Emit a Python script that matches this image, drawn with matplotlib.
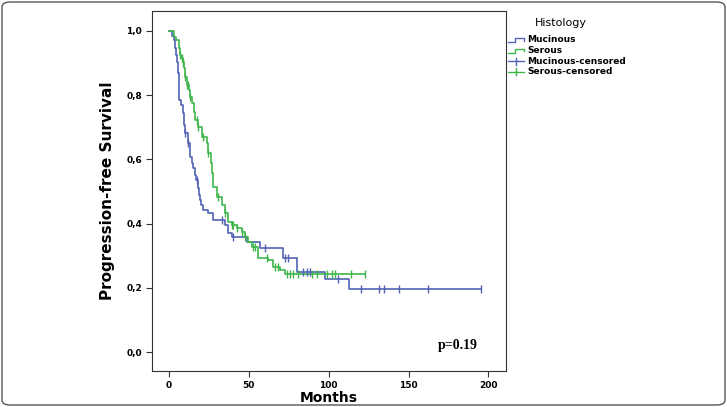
import numpy as np
import matplotlib
matplotlib.use("Agg")
import matplotlib.pyplot as plt
from matplotlib.patches import FancyBboxPatch
from matplotlib.lines import Line2D

# Kaplan-Meier step data (time of drop in months, survival after drop)
muc_times = [0, 1.9, 3.1, 3.8, 4.4, 5.0, 5.6, 6.3, 6.6, 7.5, 8.8, 9.4, 10.0, 11.9, 13.2,
             14.4, 15.0, 16.3, 16.9, 18.2, 18.8, 19.4, 20.1, 21.3, 24.4, 27.6, 35.1, 37.0,
             39.5, 48.9, 57.0, 71.4, 80.2, 97.7, 112.8]
muc_surv = [1.0, 0.984, 0.972, 0.947, 0.925, 0.903, 0.869, 0.832, 0.785, 0.769, 0.745, 0.707,
            0.682, 0.651, 0.607, 0.589, 0.573, 0.551, 0.536, 0.511, 0.489, 0.474, 0.458, 0.442,
            0.433, 0.411, 0.396, 0.371, 0.358, 0.343, 0.324, 0.293, 0.249, 0.227, 0.196]
muc_end = 195.5
muc_censor = [10.0, 11.9, 17.5, 33.2, 39.8, 60.2, 72.7, 74.6, 84.0, 86.5, 88.3, 105.9,
              120.3, 131.6, 134.8, 144.1, 162.3, 195.5]

ser_times = [0, 3.1, 4.4, 6.3, 6.9, 7.5, 8.8, 9.4, 10.0, 11.3, 12.5, 13.2, 14.4, 15.7, 16.3,
             18.2, 20.7, 23.8, 24.4, 26.3, 26.9, 27.6, 30.1, 33.2, 35.1, 37.0, 39.5, 42.6,
             45.7, 47.6, 49.5, 52.0, 55.8, 62.0, 65.2, 69.5, 72.7]
ser_surv = [1.0, 0.981, 0.972, 0.947, 0.925, 0.916, 0.903, 0.885, 0.857, 0.832, 0.816, 0.794,
            0.776, 0.748, 0.723, 0.701, 0.670, 0.651, 0.620, 0.589, 0.558, 0.514, 0.483, 0.458,
            0.433, 0.405, 0.396, 0.386, 0.374, 0.358, 0.343, 0.327, 0.293, 0.287, 0.265, 0.255,
            0.243]
ser_end = 122.8
ser_censor = [6.9, 8.1, 8.8, 10.0, 11.3, 11.9, 13.2, 17.5, 18.2, 21.3, 24.4, 30.7, 35.1,
              39.5, 40.1, 42.6, 45.7, 47.6, 52.6, 53.9, 61.4, 66.4, 68.3, 73.9, 75.8, 77.7,
              80.8, 89.6, 92.7, 99.0, 102.1, 104.0, 114.0, 122.8]

x_ticks = [0, 50, 100, 150, 200]
y_ticks = [0.0, 0.2, 0.4, 0.6, 0.8, 1.0]
y_ticklabels = ["0,0", "0,2", "0,4", "0,6", "0,8", "1,0"]

BLUE = "#5262b4"
GREEN = "#3fb64a"

fig = plt.figure(figsize=(7.27, 4.07), dpi=100)
ax = fig.add_axes([152/727, 36/407, 354/727, 360/407])


def km_draw(times, surv, end, censor, color):
    t = list(times) + [end]
    s = list(surv) + [surv[-1]]
    ax.step(t, s, where="post", color=color, lw=1.2, zorder=3)
    times_arr = np.array(times)
    surv_arr = np.array(surv)
    cs = []
    for c in censor:
        i = np.searchsorted(times_arr, c, side="right") - 1
        cs.append(surv_arr[max(i, 0)])
    ax.plot(censor, cs, linestyle="none", marker="|", markersize=6, mew=1.0,
            color=color, zorder=4)


km_draw(muc_times, muc_surv, muc_end, muc_censor, BLUE)
km_draw(ser_times, ser_surv, ser_end, ser_censor, GREEN)

ax.set_xlim(-10.6, 211)
ax.set_ylim(-0.059, 1.062)
ax.set_xticks(x_ticks)
ax.set_xticklabels([str(v) for v in x_ticks], fontsize=6.5, fontweight="bold")
ax.set_yticks(y_ticks)
ax.set_yticklabels(y_ticklabels, fontsize=6.5, fontweight="bold")
ax.tick_params(axis="both", direction="out", length=4, width=0.8, color="#333333", pad=3)
for sp in ax.spines.values():
    sp.set_linewidth(0.8)
    sp.set_color("#333333")
ax.set_xlabel("Months", fontsize=10, fontweight="bold", labelpad=1)
ax.set_ylabel("Progression-free Survival", fontsize=11, fontweight="bold", labelpad=8)

ax.text(0.92, 0.07, "p=0.19", transform=ax.transAxes, ha="right", va="center",
        fontsize=10, fontweight="bold", family="Liberation Serif")

# Legend drawn in figure pixel coordinates
W, H = 727, 407
def fx(px):
    return px / W
def fy(py):
    return 1 - py / H

fig.text(fx(561), fy(23), "Histology", fontsize=8, ha="center", va="center")
labels = ["Mucinous", "Serous", "Mucinous-censored", "Serous-censored"]
colors = [BLUE, GREEN, BLUE, GREEN]
rows = [40, 50.5, 61, 71.5]
for k, (lab, col, r) in enumerate(zip(labels, colors, rows)):
    if k < 2:
        xs = [fx(508), fx(515), fx(515), fx(524), fx(524)]
        ys = [fy(r + 2), fy(r + 2), fy(r - 2), fy(r - 2), fy(r + 0.5)]
        fig.add_artist(Line2D(xs, ys, color=col, lw=1.0))
    else:
        fig.add_artist(Line2D([fx(508), fx(524)], [fy(r), fy(r)], color=col, lw=1.0))
        fig.add_artist(Line2D([fx(516), fx(516)], [fy(r - 3.5), fy(r + 3.5)], color=col, lw=1.0))
    fig.text(fx(527), fy(r), lab, fontsize=6.5, fontweight="bold", ha="left", va="center")

# Rounded outer frame
frame = FancyBboxPatch((2 / W, 2 / H), 1 - 4 / W, 1 - 4 / H,
                       boxstyle="round,pad=0,rounding_size=0.012",
                       transform=fig.transFigure, fill=False, edgecolor="#555555", lw=1.0)
fig.add_artist(frame)

fig.savefig("out.png", dpi=100)
